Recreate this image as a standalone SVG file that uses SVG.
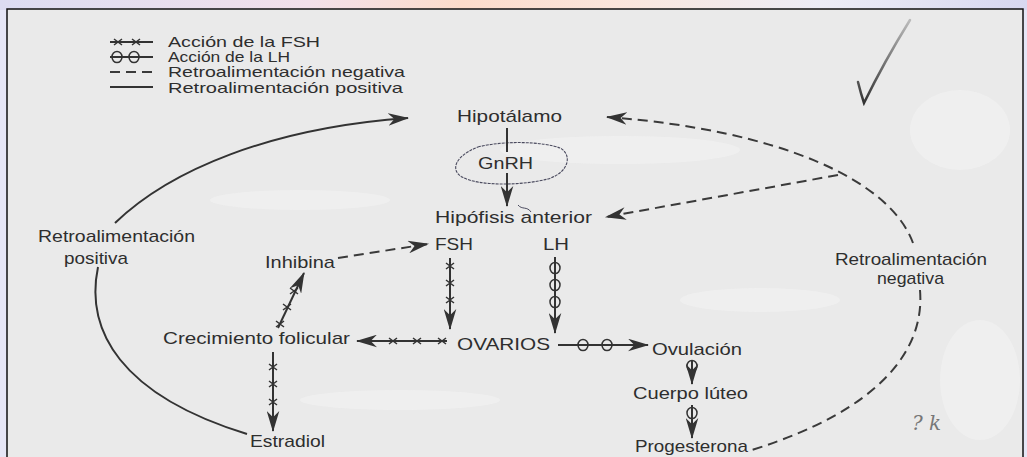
<svg xmlns="http://www.w3.org/2000/svg" width="1027" height="457" viewBox="0 0 1027 457">
<defs>
<linearGradient id="topg" x1="0" y1="0" x2="1" y2="0">
<stop offset="0" stop-color="#dcdcf2"/>
<stop offset="0.3" stop-color="#f2e0ea"/>
<stop offset="0.45" stop-color="#fcdccb"/>
<stop offset="0.6" stop-color="#fbe6dc"/>
<stop offset="0.8" stop-color="#ececf6"/>
<stop offset="1" stop-color="#d8d8f0"/>
</linearGradient>
<linearGradient id="chk" x1="0" y1="1" x2="0" y2="0">
<stop offset="0" stop-color="#333"/>
<stop offset="1" stop-color="#bbb"/>
</linearGradient>
<marker id="ah" viewBox="0 0 20 12" refX="19" refY="6" markerWidth="21" markerHeight="13" orient="auto" markerUnits="userSpaceOnUse">
<path d="M0,0 L20,6 L0,12 L6,6 Z" fill="#333"/>
</marker>
<path id="xm" d="M-4,-3 L4,3 M-4,3 L4,-3" fill="none" stroke="#333" stroke-width="1.5"/>
<ellipse id="om" rx="5" ry="5.5" fill="none" stroke="#333" stroke-width="1.5"/>
<style>
.t{font-family:"Liberation Sans",Arial,sans-serif;fill:#2e2e2e;font-size:17px}
.lg{font-family:"Liberation Sans",Arial,sans-serif;fill:#2e2e2e;font-size:15px}
.ln{fill:none;stroke:#333;stroke-width:2}
.ds{fill:none;stroke:#3a3a3a;stroke-width:2;stroke-dasharray:10 6}
.ar{marker-end:url(#ah)}
</style>
</defs>
<rect x="0" y="0" width="1027" height="457" fill="#e6e6f6"/>
<rect x="0" y="0" width="1027" height="10" fill="url(#topg)"/>
<rect x="7" y="9" width="1016" height="460" fill="#eaeaea" stroke="#111" stroke-width="1.5"/>
<g fill="#f7f7f7" opacity="0.45">
<ellipse cx="620" cy="150" rx="120" ry="14"/>
<ellipse cx="300" cy="200" rx="90" ry="10"/>
<ellipse cx="960" cy="130" rx="50" ry="40"/>
<ellipse cx="760" cy="300" rx="80" ry="12"/>
<ellipse cx="980" cy="380" rx="40" ry="60"/>
<ellipse cx="400" cy="400" rx="100" ry="10"/>
</g>

<g id="legend">
<line class="ln" x1="110" y1="42" x2="153" y2="42" stroke-width="1.5"/>
<use href="#xm" x="118" y="42"/><use href="#xm" x="136" y="42"/>
<line class="ln" x1="110" y1="57" x2="153" y2="57" stroke-width="1.5"/>
<use href="#om" x="117" y="57"/><use href="#om" x="134" y="57"/>
<line class="ds" x1="110" y1="72" x2="153" y2="72" stroke-width="1.5" stroke-dasharray="11 4"/>
<line class="ln" x1="110" y1="87" x2="153" y2="87" stroke-width="1.5"/>
<text class="lg" x="168" y="47" textLength="152" lengthAdjust="spacingAndGlyphs">Acción de la FSH</text>
<text class="lg" x="168" y="62" textLength="122" lengthAdjust="spacingAndGlyphs">Acción de la LH</text>
<text class="lg" x="168" y="77" textLength="237" lengthAdjust="spacingAndGlyphs">Retroalimentación negativa</text>
<text class="lg" x="168" y="93" textLength="235" lengthAdjust="spacingAndGlyphs">Retroalimentación positiva</text>
</g>

<g id="hipotalamo"><text class="t" x="457" y="122" textLength="105" lengthAdjust="spacingAndGlyphs">Hipotálamo</text></g>
<g id="gnrh">
<path d="M478,147 C505,140 545,142 560,148 C572,154 570,172 548,179 C520,186 478,186 462,177 C450,170 455,156 478,147 Z" fill="none" stroke="#4a4a5e" stroke-width="1.1" stroke-dasharray="3 1"/>
<text class="t" x="478" y="169" textLength="55" lengthAdjust="spacingAndGlyphs">GnRH</text>
</g>
<g id="hipofisis">
<text class="t" x="435" y="223" textLength="157" lengthAdjust="spacingAndGlyphs">Hipófisis anterior</text>
<path d="M518,205 C522,210 527,206 531,212" fill="none" stroke="#4a4a5e" stroke-width="1"/>
</g>
<g id="fsh"><text class="t" x="435" y="250" textLength="38" lengthAdjust="spacingAndGlyphs">FSH</text></g>
<g id="lh"><text class="t" x="543" y="250" textLength="26" lengthAdjust="spacingAndGlyphs">LH</text></g>
<g id="inhibina"><text class="t" x="265" y="268" textLength="70" lengthAdjust="spacingAndGlyphs">Inhibina</text></g>
<g id="crecimiento"><text class="t" x="163" y="344" textLength="187" lengthAdjust="spacingAndGlyphs">Crecimiento folicular</text></g>
<g id="ovarios"><text class="t" x="457" y="350" textLength="93" lengthAdjust="spacingAndGlyphs">OVARIOS</text></g>
<g id="ovulacion"><text class="t" x="652" y="355" textLength="90" lengthAdjust="spacingAndGlyphs">Ovulación</text></g>
<g id="cuerpo"><text class="t" x="633" y="399" textLength="115" lengthAdjust="spacingAndGlyphs">Cuerpo lúteo</text></g>
<g id="estradiol"><text class="t" x="250" y="447" textLength="75" lengthAdjust="spacingAndGlyphs">Estradiol</text></g>
<g id="progesterona"><text class="t" x="635" y="452" textLength="113" lengthAdjust="spacingAndGlyphs">Progesterona</text></g>
<g id="retro-pos">
<text class="t" x="38" y="242" textLength="157" lengthAdjust="spacingAndGlyphs">Retroalimentación</text>
<text class="t" x="64" y="264" textLength="64" lengthAdjust="spacingAndGlyphs">positiva</text>
</g>
<g id="retro-neg">
<text class="t" x="835" y="265" textLength="152" lengthAdjust="spacingAndGlyphs">Retroalimentación</text>
<text class="t" x="877" y="284" textLength="67" lengthAdjust="spacingAndGlyphs">negativa</text>
</g>

<g id="connectors">
<line class="ln" x1="507" y1="128" x2="507" y2="152"/>
<line class="ln ar" x1="507" y1="173" x2="507" y2="206"/>
<path class="ds ar" d="M913,243 C890,180 780,130 607,117"/>
<path class="ds ar" d="M838,175 L606,217"/>
<path class="ds" d="M920,290 C925,350 880,410 752,450"/>
<path class="ln ar" d="M115,223 C170,170 270,128 408,118"/>
<path class="ln" d="M98,267 C85,330 120,395 247,434"/>
<path class="ds ar" d="M338,258 L428,244"/>
<line class="ln ar" x1="450" y1="258" x2="450" y2="329"/>
<use href="#xm" x="450" y="266"/><use href="#xm" x="450" y="283"/><use href="#xm" x="450" y="300"/>
<line class="ln ar" x1="555" y1="257" x2="555" y2="333"/>
<use href="#om" x="555" y="268"/><use href="#om" x="555" y="285"/><use href="#om" x="555" y="302"/>
<line class="ln ar" x1="447" y1="341" x2="357" y2="341"/>
<use href="#xm" x="393" y="341"/><use href="#xm" x="417" y="341"/><use href="#xm" x="442" y="341"/>
<line class="ln ar" x1="558" y1="345" x2="648" y2="345"/>
<use href="#om" x="583" y="345"/><use href="#om" x="607" y="345"/>
<line class="ln ar" x1="278" y1="328" x2="304" y2="273"/>
<use href="#xm" x="280" y="324"/><use href="#xm" x="287" y="307"/><use href="#xm" x="294" y="291"/>
<line class="ln ar" x1="273" y1="352" x2="273" y2="431"/>
<use href="#xm" x="273" y="367"/><use href="#xm" x="273" y="384"/><use href="#xm" x="273" y="402"/>
<line class="ln ar" x1="692" y1="360" x2="692" y2="384"/>
<use href="#om" x="692" y="366"/>
<line class="ln ar" x1="692" y1="405" x2="692" y2="438"/>
<use href="#om" x="692" y="413"/>
</g>

<path d="M858,82 Q861,94 864,103 Q884,62 910,20" fill="none" stroke="url(#chk)" stroke-width="2.5" stroke-linecap="round"/>
<text x="912" y="430" font-family="DejaVu Serif, serif" font-style="italic" font-size="20" fill="#777">? k</text>
</svg>
